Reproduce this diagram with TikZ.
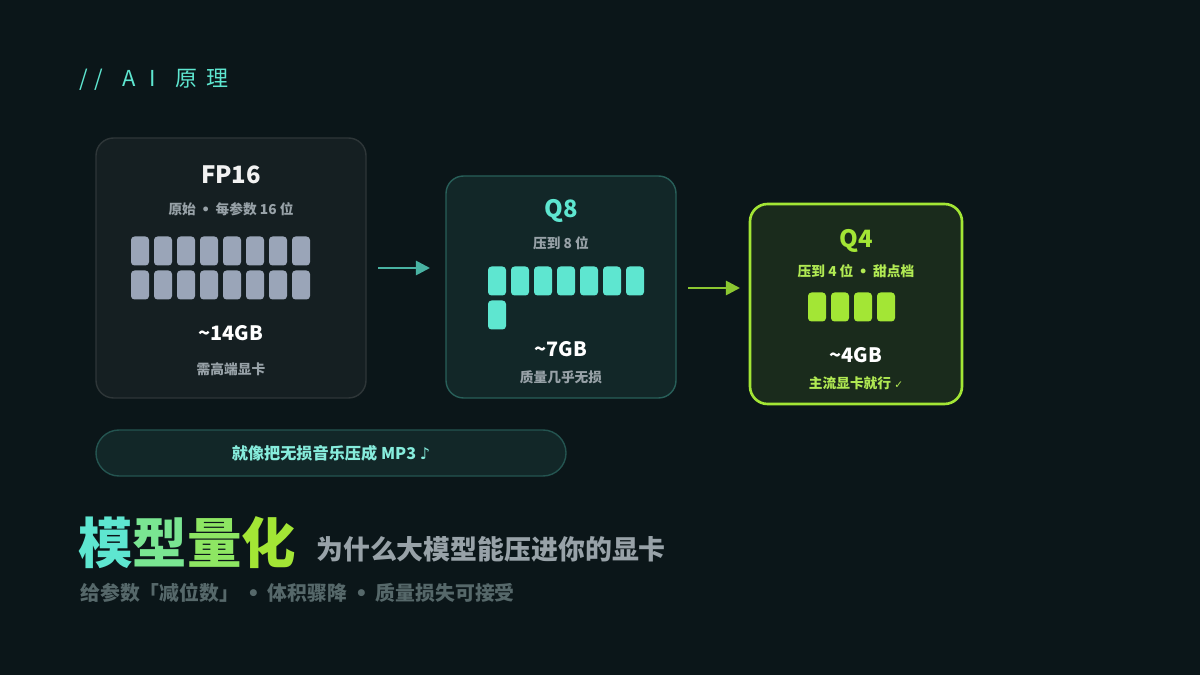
\documentclass[tikz,border=0pt]{standalone}
\usepackage{fontspec}
\setmainfont{Noto Sans CJK SC}
\newfontfamily\symfont{DejaVu Sans}
\usetikzlibrary{positioning,arrows.meta}
\definecolor{bgc}{HTML}{0B1619}
\definecolor{teal}{HTML}{5EE6D0}
\definecolor{lime}{HTML}{A3E635}
\definecolor{greyblk}{HTML}{9AA5B8}
\definecolor{subgrey}{HTML}{98A2A8}
\definecolor{dimgrey}{HTML}{56686A}
\newcommand{\dotsep}{\hspace{0.4em}{\symfont •}\hspace{0.4em}}
\tikzset{
  card/.style={draw, rounded corners=10pt, line width=0.8pt},
  blk/.style={fill=#1, rounded corners=2pt, minimum width=18*0.02cm, minimum height=29*0.02cm, inner sep=0pt},
  head/.style={font=\fontsize{13.6}{15}\selectfont\bfseries},
  sub/.style={font=\fontsize{7.8}{9}\selectfont\bfseries, text=subgrey},
  size/.style={font=\fontsize{11.3}{13}\selectfont\bfseries, text=white},
  flow/.style={-{Triangle[length=8pt,width=8pt]}, line width=1.5pt}
}
\begin{document}
\begin{tikzpicture}[x=0.02cm, y=-0.02cm]
\fill[bgc] (0,0) rectangle (1200,675);
\useasboundingbox (0,0) rectangle (1200,675);
% title tag
\node[anchor=west, inner sep=0pt, text=teal, font=\fontsize{12.5}{14}\selectfont] (tag) at (79,80) {/\hspace{0.3em}/\hspace{0.9em}A\hspace{0.6em}I\hspace{0.9em}原\hspace{0.4em}理};
% FP16 card
\draw[card, draw=gray!30!bgc, fill=white!4!bgc] (96,138) rectangle (366,398);
\node[head, text=white!90!gray] (fp) at (231,175) {FP16};
\node[sub] (fpsub) at (231,209) {原始\dotsep 每参数 16 位};
\foreach \r in {0,1}
  \foreach \c in {0,...,7}
    \node[blk=greyblk] at (140+\c*23, 251+\r*34) {};
\node[size] (fpgb) at (231,333) {\textasciitilde 14GB};
\node[sub] (fpnote) at (231,369) {需高端显卡};
% Q8 card
\draw[card, draw=teal!35!bgc, fill=teal!8!bgc] (446,176) rectangle (676,398);
\node[head, text=teal] (q8) at (561,211) {Q8};
\node[sub] (q8sub) at (561,243) {压到 8 位};
\foreach \c in {0,...,6}
  \node[blk=teal] at (497+\c*23, 281) {};
\node[blk=teal] at (497,315) {};
\node[size] (q8gb) at (561,349) {\textasciitilde 7GB};
\node[sub] (q8note) at (561,377) {质量几乎无损};
% Q4 card
\draw[card, draw=lime, line width=1.5pt, fill=lime!10!bgc] (750,204) rectangle (962,404);
\node[head, text=lime] (q4) at (856,241) {Q4};
\node[sub, text=lime!85!white] (q4sub) at (856,271) {压到 4 位\dotsep 甜点档};
\foreach \c in {0,...,3}
  \node[blk=lime] at (817+\c*23, 307) {};
\node[size] (q4gb) at (856,355) {\textasciitilde 4GB};
\node[sub, text=lime!85!white] (q4note) at (856,383) {主流显卡就行 {\symfont\fontsize{6}{7}\selectfont ✓}};
% arrows
\coordinate (a1) at (378,268); \coordinate (b1) at (430,268);
\coordinate (a2) at (688,288); \coordinate (b2) at (740,288);
\draw[flow, teal!75!bgc] (a1) -- (b1);
\draw[flow, lime!85!bgc] (a2) -- (b2);
% analogy pill
\draw[draw=teal!30!bgc, fill=teal!8!bgc, rounded corners=23*0.02cm, line width=0.8pt] (96,430) rectangle (566,476);
\node[font=\fontsize{9.2}{11}\selectfont\bfseries, text=teal!75!white] (pill) at (331,453) {就像把无损音乐压成 MP3 {\symfont ♪}};
% headline
\node[anchor=west, inner sep=0pt, font=\fontsize{31}{34}\selectfont\bfseries] (big) at (78,543)
  {\textcolor{teal}{模}\textcolor{teal!60!lime}{型}\textcolor{teal!30!lime}{量}\textcolor{lime}{化}};
\node[anchor=west, inner sep=0pt, text=subgrey, font=\fontsize{15.3}{17}\selectfont\bfseries] (bigsub) at (316,549) {为什么大模型能压进你的显卡};
\node[anchor=west, inner sep=0pt, text=dimgrey, font=\fontsize{11.3}{13}\selectfont\bfseries] (tagline) at (80,593) {给参数「减位数」\dotsep 体积骤降\dotsep 质量损失可接受};
\end{tikzpicture}
\end{document}
